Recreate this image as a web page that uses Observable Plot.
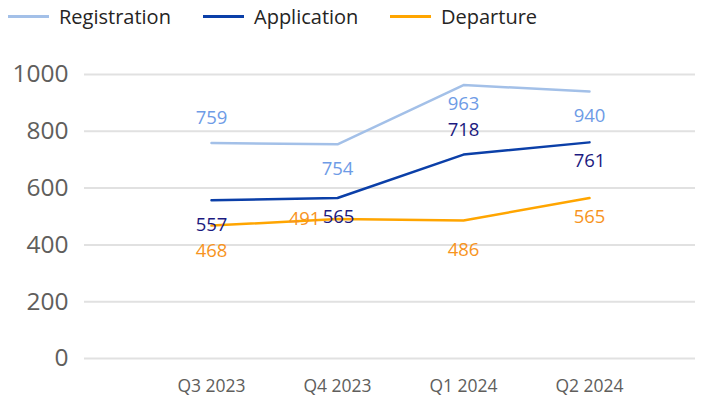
<!DOCTYPE html>
<html><head><meta charset="utf-8">
<script src="https://cdn.jsdelivr.net/npm/d3@7"></script>
<script src="https://cdn.jsdelivr.net/npm/@observablehq/plot@0.6"></script>
<style>
body{margin:0;background:#fff;font-family:"Segoe UI","Open Sans","Noto Sans",sans-serif;}
#legend{height:36px;position:relative;font-size:20px;color:#252423;}
.item{position:absolute;top:3px;display:flex;align-items:center;}
.sw{width:41px;height:3px;margin-right:10px;}
</style></head>
<body>
<div id="legend"></div>
<div id="chart"></div>
<script>
const quarters = ["Q3 2023","Q4 2023","Q1 2024","Q2 2024"];
const seriesNames = ["Registration","Application","Departure"];
const registration = [759,754,963,940];
const application = [557,565,718,761];
const departure = [468,491,486,565];
const yTicks = [0,200,400,600,800,1000];

const lineColors = {Registration:"#A3C0E8",Application:"#0B3FA8",Departure:"#FFA500"};
const labelColors = {Registration:"#6E9BE6",Application:"#1C1A80",Departure:"#F7941E"};
// label placement: vertical offset (px) and horizontal offset
const placement = {
  Registration:[[-25,0],[25,0],[19,0],[25,0]],
  Application:[[25,0],[19,1],[-25,0],[19,0]],
  Departure:[[25,0],[0,-33],[30,0],[19,0]]
};

const values = {Registration:registration,Application:application,Departure:departure};
const data = [];
seriesNames.forEach(s=>quarters.forEach((q,i)=>data.push({series:s,q,v:values[s][i],dy:placement[s][i][0],dx:placement[s][i][1]})));

// legend
const legendX = [8,203,390];
const leg = document.getElementById("legend");
seriesNames.forEach((s,i)=>{
  const d=document.createElement("div");d.className="item";d.style.left=legendX[i]+"px";
  d.innerHTML=`<span class="sw" style="background:${lineColors[s]}"></span><span>${s}</span>`;
  leg.appendChild(d);
});

const marks = [
  Plot.ruleY(yTicks,{stroke:"#E1E1E1",strokeWidth:2}),
  Plot.axisY({ticks:yTicks,tickFormat:d=>String(d),tickSize:0,tickPadding:16,fontSize:24.5,fill:"#605E5C",label:null}),
  Plot.axisX({tickSize:0,tickPadding:21,fontSize:17.5,fill:"#605E5C",label:null}),
  Plot.line(data,{x:"q",y:"v",z:"series",stroke:d=>lineColors[d.series],strokeWidth:2.5})
];
data.forEach(d=>{
  marks.push(Plot.text([d],{x:"q",y:"v",text:d=>String(d.v),dy:d.dy,dx:d.dx,fill:labelColors[d.series],fontSize:18.5}));
});

const chart = Plot.plot({
  width:712,height:365,
  marginLeft:84,marginRight:17,marginTop:38,marginBottom:43,
  style:{fontFamily:'"Segoe UI","Open Sans","Noto Sans",sans-serif',background:"#fff"},
  x:{type:"point",domain:quarters,range:[210,589],padding:0},
  y:{domain:[0,1000]},
  marks
});
document.getElementById("chart").appendChild(chart);
</script>
</body></html>
